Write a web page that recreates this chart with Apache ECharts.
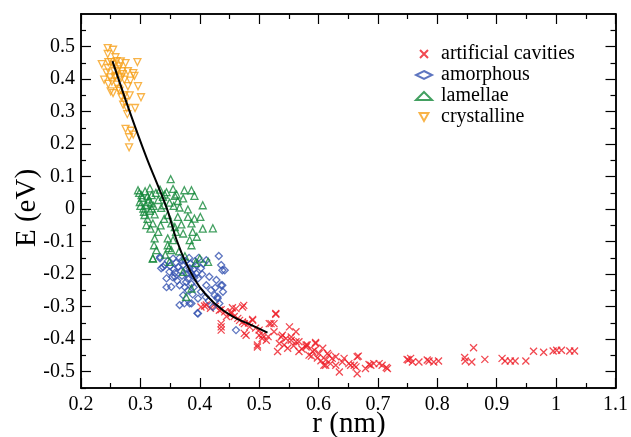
<!DOCTYPE html>
<html>
<head>
<meta charset="utf-8">
<script src="https://cdn.jsdelivr.net/npm/echarts@6/dist/echarts.min.js"></script>
<style>
  html, body { margin: 0; padding: 0; background: #fff; }
  #chart { width: 631px; height: 437px; }
  #warm { font-family: 'Liberation Serif'; position: absolute; left: -999px; }
</style>
</head>
<body>
<div id="chart"></div>
<span id="warm">r (nm) E (eV) 0.123456789</span>
<script>
// [r (nm), E (eV)]
const cavities = [
  [0.402,-0.301],[0.408,-0.298],[0.411,-0.295],[0.418,-0.305],[0.426,-0.299],[0.433,-0.311],[0.436,-0.309],
  [0.442,-0.316],[0.453,-0.316],[0.455,-0.303],[0.461,-0.306],[0.472,-0.301],[0.474,-0.296],[0.453,-0.321],
  [0.464,-0.336],[0.467,-0.342],[0.472,-0.347],[0.475,-0.352],[0.489,-0.339],[0.489,-0.342],[0.436,-0.352],
  [0.436,-0.362],[0.436,-0.372],[0.475,-0.382],[0.478,-0.388],[0.484,-0.362],[0.500,-0.372],[0.500,-0.388],
  [0.506,-0.388],[0.497,-0.418],[0.497,-0.424],[0.512,-0.403],[0.517,-0.352],[0.520,-0.352],[0.525,-0.352],
  [0.528,-0.321],[0.528,-0.323],[0.525,-0.377],[0.534,-0.413],[0.537,-0.393],[0.539,-0.388],[0.551,-0.362],
  [0.554,-0.393],[0.554,-0.403],[0.562,-0.408],[0.562,-0.377],[0.542,-0.418],[0.531,-0.438],[0.548,-0.428],
  [0.567,-0.408],[0.567,-0.438],[0.579,-0.418],[0.579,-0.424],[0.581,-0.418],[0.584,-0.449],[0.590,-0.438],
  [0.593,-0.434],[0.595,-0.410],[0.595,-0.413],[0.601,-0.444],[0.607,-0.428],[0.609,-0.480],[0.612,-0.464],
  [0.612,-0.480],[0.615,-0.444],[0.617,-0.449],[0.620,-0.475],[0.623,-0.459],[0.629,-0.454],[0.629,-0.480],
  [0.635,-0.501],[0.643,-0.459],[0.651,-0.475],[0.654,-0.480],[0.660,-0.480],[0.663,-0.485],[0.665,-0.454],
  [0.667,-0.452],[0.665,-0.506],[0.679,-0.490],[0.685,-0.478],[0.688,-0.480],[0.693,-0.475],[0.702,-0.475],
  [0.707,-0.480],[0.714,-0.487],[0.716,-0.490],[0.749,-0.462],[0.751,-0.464],[0.755,-0.459],[0.758,-0.470],
  [0.769,-0.470],[0.783,-0.464],[0.786,-0.467],[0.794,-0.470],[0.802,-0.467],[0.846,-0.456],[0.847,-0.467],
  [0.858,-0.470],[0.861,-0.426],[0.880,-0.462],[0.909,-0.459],[0.914,-0.467],[0.923,-0.467],[0.931,-0.467],
  [0.949,-0.467],[0.962,-0.437],[0.979,-0.440],[0.995,-0.436],[1.001,-0.434],[1.009,-0.434],[1.023,-0.436],
  [1.031,-0.436],[0.445,-0.330],[0.458,-0.330],[0.482,-0.350],[0.494,-0.366],[0.505,-0.398],[0.515,-0.392],
  [0.545,-0.398],[0.558,-0.420],[0.572,-0.430],[0.588,-0.452],[0.598,-0.458],[0.604,-0.466],[0.640,-0.470]
];
const amorphous = [
  [0.333,-0.147],[0.341,-0.172],[0.355,-0.152],[0.335,-0.182],[0.349,-0.193],[0.358,-0.208],[0.344,-0.213],
  [0.352,-0.239],[0.366,-0.234],[0.377,-0.224],[0.383,-0.182],[0.388,-0.203],[0.397,-0.213],[0.402,-0.182],
  [0.411,-0.157],[0.432,-0.144],[0.436,-0.172],[0.442,-0.188],[0.416,-0.208],[0.428,-0.218],[0.411,-0.234],
  [0.419,-0.249],[0.436,-0.234],[0.439,-0.254],[0.402,-0.254],[0.372,-0.265],[0.397,-0.275],[0.425,-0.265],
  [0.430,-0.275],[0.366,-0.295],[0.374,-0.290],[0.386,-0.290],[0.422,-0.301],[0.433,-0.290],[0.333,-0.151],
  [0.338,-0.178],[0.354,-0.209],[0.344,-0.240],[0.383,-0.290],[0.396,-0.320],[0.438,-0.188],[0.438,-0.234],
  [0.430,-0.270],[0.397,-0.321],[0.461,-0.372],[0.360,-0.165],[0.364,-0.178],[0.368,-0.190],[0.372,-0.172],
  [0.376,-0.160],[0.378,-0.200],[0.380,-0.214],[0.384,-0.168],[0.386,-0.230],[0.390,-0.185],[0.392,-0.160],
  [0.394,-0.198],[0.370,-0.205],[0.362,-0.220],[0.375,-0.240],[0.380,-0.250],[0.390,-0.240],[0.394,-0.172],
  [0.398,-0.150],[0.404,-0.200],[0.406,-0.168],[0.346,-0.160],[0.350,-0.175],[0.356,-0.185],[0.358,-0.196],
  [0.366,-0.150],[0.370,-0.158],[0.382,-0.150],[0.388,-0.262],[0.410,-0.270],[0.415,-0.282],[0.426,-0.242],
  [0.378,-0.183],[0.385,-0.195],[0.391,-0.210]
];
const lamellae = [
  [0.351,0.092],[0.296,0.058],[0.316,0.064],[0.355,0.062],[0.374,0.058],[0.386,0.058],[0.302,0.043],
  [0.319,0.043],[0.341,0.045],[0.358,0.041],[0.372,0.033],[0.391,0.041],[0.299,0.022],[0.313,0.022],
  [0.330,0.028],[0.349,0.020],[0.363,0.025],[0.405,0.012],[0.305,0.002],[0.319,0.002],[0.335,0.004],
  [0.380,-0.001],[0.307,-0.018],[0.324,-0.016],[0.346,-0.018],[0.363,-0.024],[0.380,-0.024],[0.391,-0.029],
  [0.401,-0.024],[0.310,-0.049],[0.321,-0.044],[0.352,-0.044],[0.369,-0.047],[0.386,-0.044],[0.422,-0.059],
  [0.330,-0.070],[0.360,-0.070],[0.372,-0.075],[0.388,-0.070],[0.324,-0.090],[0.346,-0.090],[0.355,-0.095],
  [0.383,-0.095],[0.323,-0.111],[0.346,-0.111],[0.386,-0.111],[0.327,-0.126],[0.352,-0.126],[0.321,-0.151],
  [0.348,-0.120],[0.321,-0.152],[0.349,-0.162],[0.400,-0.152],[0.414,-0.162],[0.372,-0.193],[0.386,-0.244],
  [0.377,-0.270],[0.298,0.050],[0.303,0.035],[0.308,0.055],[0.312,0.040],[0.300,0.010],[0.309,0.012],
  [0.314,0.030],[0.318,0.018],[0.306,-0.008],[0.312,-0.030],[0.316,-0.005],[0.322,0.010],[0.326,0.050],
  [0.333,0.060],[0.338,0.038],[0.344,0.052],[0.339,0.012],[0.356,0.010],[0.361,0.045],[0.366,0.005],
  [0.317,-0.060],[0.334,-0.050],[0.340,-0.030],[0.358,-0.055],[0.395,-0.085],[0.405,-0.060],[0.342,-0.140],
  [0.365,-0.130],[0.375,-0.145],[0.393,-0.165]
];
const crystalline = [
  [0.245,0.495],[0.254,0.490],[0.245,0.477],[0.258,0.467],[0.235,0.446],[0.246,0.452],[0.251,0.452],
  [0.267,0.454],[0.275,0.449],[0.295,0.452],[0.245,0.434],[0.256,0.424],[0.265,0.439],[0.269,0.424],
  [0.279,0.424],[0.288,0.418],[0.239,0.398],[0.249,0.405],[0.257,0.405],[0.268,0.405],[0.273,0.398],
  [0.246,0.385],[0.260,0.383],[0.279,0.378],[0.296,0.378],[0.250,0.362],[0.254,0.357],[0.265,0.364],
  [0.273,0.350],[0.282,0.350],[0.301,0.344],[0.271,0.321],[0.277,0.311],[0.291,0.311],[0.278,0.292],
  [0.275,0.247],[0.284,0.241],[0.281,0.221],[0.288,0.229],[0.281,0.190],[0.255,0.445],[0.262,0.430],
  [0.258,0.410],[0.270,0.415],[0.252,0.392],[0.263,0.370],[0.268,0.345],[0.274,0.330],[0.283,0.395],
  [0.290,0.410],[0.243,0.420],[0.260,0.455]
];
const fitLine = [
  [0.253,0.455],[0.282,0.300],[0.310,0.160],[0.330,0.070],[0.345,0.000],[0.361,-0.095],[0.378,-0.170],
  [0.400,-0.240],[0.425,-0.290],[0.455,-0.330],[0.485,-0.355],[0.514,-0.380]
];
const xMajor = [0.2,0.3,0.4,0.5,0.6,0.7,0.8,0.9,1.0,1.1];
const xMinor = [0.25,0.35,0.45,0.55,0.65,0.75,0.85,0.95,1.05];
const yMajor = [-0.5,-0.4,-0.3,-0.2,-0.1,0,0.1,0.2,0.3,0.4,0.5];
const yMinor = [-0.55,-0.45,-0.35,-0.25,-0.15,-0.05,0.05,0.15,0.25,0.35,0.45,0.55];

const FONT = 'Liberation Serif';
const chart = echarts.init(document.getElementById('chart'));

const tickStyle = { color: '#000', width: 1.2 };
const noText = function () { return ''; };

// frame axes sit "on zero" of hidden helper axes whose zero lies on a grid edge
// helper index 4 = [0,1] (zero at bottom / left), index 5 = [-1,0] (zero at top / right)
function frameAxis(range, side, helper, values, len, label) {
  return {
    type: 'value', min: range[0], max: range[1], position: side,
    axisLine: { show: true, onZero: true, onZeroAxisIndex: helper, lineStyle: { color: '#000', width: 1.5 } },
    splitLine: { show: false },
    axisLabel: label || { show: true, customValues: values, formatter: noText },
    axisTick: { show: true, inside: true, length: len, customValues: values, lineStyle: { color: tickStyle.color, width: tickStyle.width } }
  };
}
function helperAxis(range) {
  return { type: 'value', min: range[0], max: range[1], show: false, splitLine: { show: false } };
}

const xr = [0.2, 1.1];
const yr = [-0.55, 0.6];
const labelStyle = function (values, margin) {
  return { show: true, customValues: values, margin: margin, fontFamily: FONT, fontSize: 20, color: '#000' };
};

const option = {
  animation: false,
  textStyle: { fontFamily: FONT },
  grid: { left: 81, right: 14, top: 14, bottom: 49 },
  graphic: [
    {
      type: 'text', x: 27, y: 208, rotation: Math.PI / 2,
      style: { text: 'E (eV)', font: '29px Liberation Serif', fill: '#000', align: 'center', verticalAlign: 'middle' }
    },
    {
      type: 'text', x: 349, y: 424,
      style: { text: 'r (nm)', font: '29px Liberation Serif', fill: '#000', align: 'center', verticalAlign: 'middle' }
    }
  ],
  legend: {
    orient: 'vertical',
    left: 410,
    top: 39,
    itemGap: 1,
    itemWidth: 16,
    itemHeight: 8,
    data: ['artificial cavities', 'amorphous', 'lamellae', 'crystalline'],
    textStyle: { fontFamily: FONT, fontSize: 20, color: '#000', padding: [0, 0, 0, 4] }
  },
  xAxis: [
    frameAxis(xr, 'bottom', 4, xMajor, 10, labelStyle(xMajor, 7)),
    frameAxis(xr, 'top', 5, xMajor, 10),
    frameAxis(xr, 'bottom', 4, xMinor, 5),
    frameAxis(xr, 'top', 5, xMinor, 5),
    helperAxis([0, 1]),
    helperAxis([-1, 0])
  ],
  yAxis: [
    frameAxis(yr, 'left', 4, yMajor, 10, labelStyle(yMajor, 6)),
    frameAxis(yr, 'right', 5, yMajor, 10),
    frameAxis(yr, 'left', 4, yMinor, 5),
    frameAxis(yr, 'right', 5, yMinor, 5),
    helperAxis([0, 1]),
    helperAxis([-1, 0])
  ],
  series: [
    {
      name: 'artificial cavities', type: 'scatter', data: cavities,
      symbol: 'path://M0,0L10,10M10,0L0,10', symbolSize: 7,
      itemStyle: { color: 'rgba(0,0,0,0)', borderColor: '#ee1c25', borderWidth: 1.3 }
    },
    {
      name: 'amorphous', type: 'scatter', data: amorphous,
      symbol: 'diamond', symbolSize: 7,
      itemStyle: { color: 'rgba(255,255,255,0)', borderColor: '#3552b0', borderWidth: 1.3 }
    },
    {
      name: 'lamellae', type: 'scatter', data: lamellae,
      symbol: 'triangle', symbolSize: 7,
      itemStyle: { color: 'rgba(255,255,255,0)', borderColor: '#14883a', borderWidth: 1.3 }
    },
    {
      name: 'crystalline', type: 'scatter', data: crystalline,
      symbol: 'path://M0,0L10,0L5,9Z', symbolSize: 7,
      itemStyle: { color: 'rgba(255,255,255,0)', borderColor: '#f6a01a', borderWidth: 1.3 }
    },
    {
      name: 'fit', type: 'line', data: fitLine, smooth: 0.4, symbol: 'none',
      lineStyle: { color: '#000', width: 2 }, z: 5
    }
  ]
};

chart.setOption(option);
setTimeout(function () { chart.setOption(option, true); }, 200);
</script>
</body>
</html>
